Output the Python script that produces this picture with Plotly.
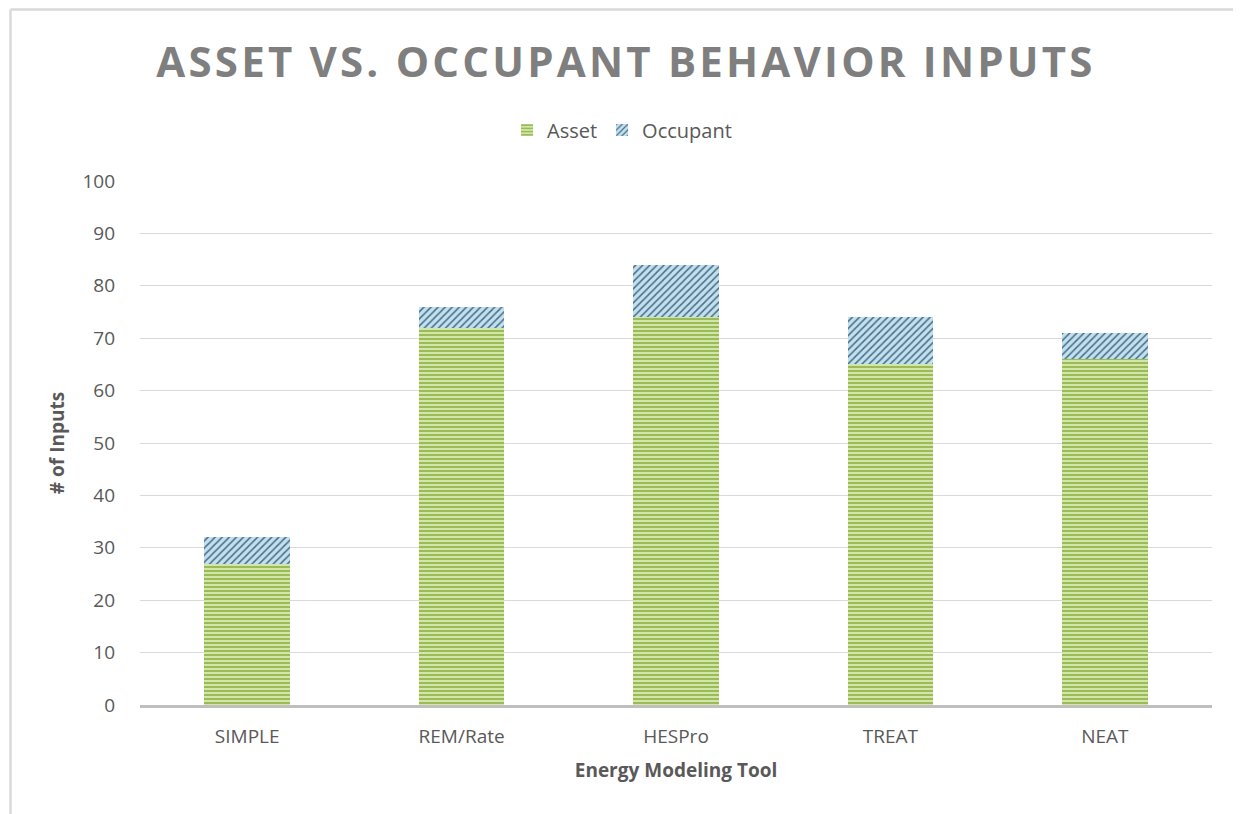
import plotly.graph_objects as go

tools = ["SIMPLE", "REM/Rate", "HESPro", "TREAT", "NEAT"]
asset = [27, 72, 74, 65, 66]
occupant = [5, 4, 10, 9, 5]
y_ticks = [0, 10, 20, 30, 40, 50, 60, 70, 80, 90, 100]

FONT = "Open Sans"
TXT = "#595959"

fig = go.Figure()
fig.add_trace(go.Bar(
    name="Asset", x=tools, y=asset,
    marker=dict(color="#c6dc9a", line=dict(width=0),
                pattern=dict(shape="-", fgcolor="#9bbb59", bgcolor="#d2e6a8",
                             size=4, solidity=0.5, fillmode="replace")),
))
fig.add_trace(go.Bar(
    name="Occupant", x=tools, y=occupant,
    marker=dict(color="#b7dde8", line=dict(width=0),
                pattern=dict(shape="/", fgcolor="#4f6a8c", bgcolor="#bfe2ec",
                             size=5, solidity=0.3, fillmode="replace")),
))

# page body has an 8px offset; size the figure so the plot lands in place
OFF = 8
W, H = 1241 - OFF, 814 - OFF
L, R, T, B = 140 - OFF, 29, 181 - OFF, 109
pw, ph = W - L - R, H - T - B
bx = (10.5 - OFF - L) / pw
by = (H - B - (9.5 - OFF)) / ph
bx2 = (W - L) / pw

fig.update_layout(
    barmode="stack",
    bargap=0.6,
    width=W, height=H,
    margin=dict(l=L, r=R, t=T, b=B),
    paper_bgcolor="white", plot_bgcolor="white",
    font=dict(family=FONT, color=TXT, size=19),
    title=dict(text="<b>ASSET VS. OCCUPANT BEHAVIOR INPUTS</b>",
               font=dict(family=FONT, size=42, color="#7f7f7f"),
               x=(626 - OFF) / W, xanchor="center", xref="container",
               y=1 - (62 - OFF) / H, yanchor="middle", yref="container"),
    legend=dict(orientation="h", xref="container", yref="container",
                x=(622 - OFF) / W, xanchor="center", y=1 - (130 - OFF) / H,
                yanchor="middle",
                font=dict(size=20, color=TXT), traceorder="normal",
                itemwidth=30),
    xaxis=dict(showgrid=False, showline=True, linecolor="#bfbfbf", linewidth=3,
               ticks="", ticklabelstandoff=12, tickfont=dict(size=19, color=TXT),
               title=dict(text="<b>Energy Modeling Tool</b>", standoff=16,
                          font=dict(size=19, color=TXT))),
    yaxis=dict(range=[0, 100], tickvals=y_ticks, showgrid=True,
               gridcolor="#d9d9d9", gridwidth=1, zeroline=False, showline=False,
               ticks="", ticklabelstandoff=24,
               tickfont=dict(size=19, color=TXT),
               title=dict(text="<b># of Inputs</b>", standoff=12,
                          font=dict(size=19, color=TXT))),
    shapes=[
        dict(type="line", xref="paper", yref="paper", x0=bx, x1=bx2, y0=by, y1=by,
             line=dict(color="#d9d9d9", width=2.5)),
        dict(type="line", xref="paper", yref="paper", x0=bx, x1=bx, y0=by, y1=-0.3,
             line=dict(color="#d9d9d9", width=2.5)),
    ],
)

post = "document.querySelectorAll('.gtitle').forEach(function(e){e.style.letterSpacing='3.2px';});"
fig.write_html("out.html", post_script=post)
